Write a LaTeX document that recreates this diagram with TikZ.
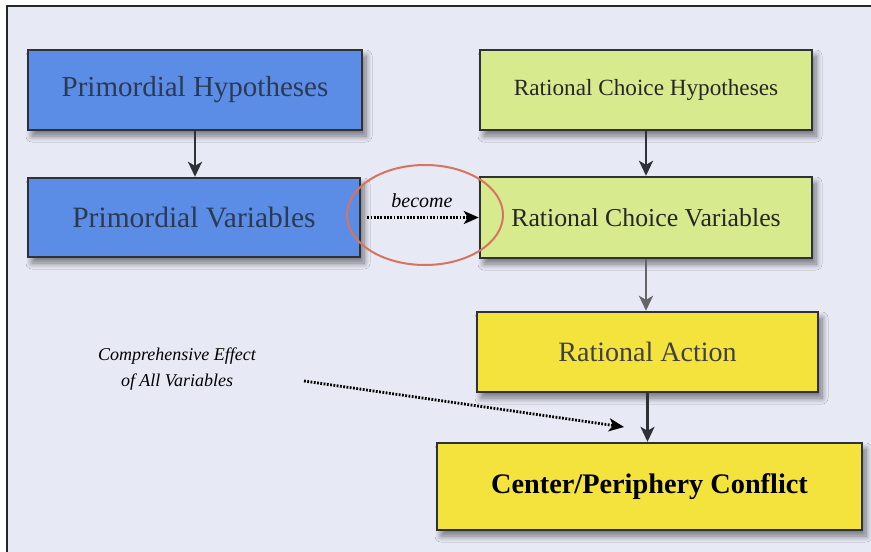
\documentclass[tikz,border=0pt]{standalone}
\usepackage{fontspec}
\setmainfont{Liberation Serif}
\usetikzlibrary{arrows.meta,shapes.geometric,shadows.blur}
\definecolor{bgc}{HTML}{E7E9F5}
\definecolor{bluef}{HTML}{5C8DE6}
\definecolor{bluet}{HTML}{2B3A52}
\definecolor{greenf}{HTML}{D7EB8E}
\definecolor{yellowf}{HTML}{F4E33C}
\definecolor{edgec}{HTML}{2E3236}
\definecolor{ringc}{HTML}{D7735F}
\tikzset{
  box/.style={draw=edgec, line width=2.4pt, rectangle, inner sep=0pt,
    blur shadow={shadow xshift=4pt, shadow yshift=-6pt, shadow blur steps=10, shadow blur radius=6pt, shadow opacity=50}},
  flow/.style={draw=edgec, line width=2.6pt, -{Stealth[length=15pt,width=14pt,inset=4pt]}},
  dotflow/.style={draw=black, line width=2.8pt, dash pattern=on 1.8pt off 1.5pt, -{Stealth[length=15pt,width=13pt,inset=4pt]}},
}
\begin{document}
\begin{tikzpicture}[x=1pt,y=-1pt]
\useasboundingbox (0,0) rectangle (871,552);
\fill[white] (0,0) rectangle (871,552);
\draw[line width=2pt, draw=black!85, fill=bgc] (7,6) rectangle (885,560);

\node[box, fill=bluef, minimum width=334pt, minimum height=80pt, text=bluet, font=\fontsize{29}{33}\selectfont] (ph) at (195,90) {Primordial Hypotheses};
\node[box, fill=bluef, minimum width=332pt, minimum height=79pt, text=bluet, font=\fontsize{29.5}{33}\selectfont] (pv) at (194,217.5) {Primordial Variables};
\node[box, fill=greenf, minimum width=332pt, minimum height=80pt, text=black!85, font=\fontsize{23.2}{27}\selectfont] (rch) at (646,90) {Rational Choice Hypotheses};
\node[box, fill=greenf, minimum width=332pt, minimum height=81pt, text=black!85, font=\fontsize{25.8}{30}\selectfont] (rcv) at (646,217.5) {Rational Choice Variables};
\node[box, fill=yellowf, minimum width=341pt, minimum height=80pt, text=black!75, font=\fontsize{28}{32}\selectfont] (ra) at (647.5,352) {Rational Action};
\node[box, fill=yellowf, minimum width=425pt, minimum height=87pt, text=black, font=\fontsize{28.3}{32}\selectfont\bfseries] (cpc) at (649.5,486.5) {Center/Periphery Conflict};

\draw[flow] (ph.south) -- (ph.south |- pv.north);
\draw[flow] (rch.south) -- (rch.south |- rcv.north);
\draw[flow, draw=black!60] (rcv.south) -- (rcv.south |- ra.north);
\draw[flow] (ra.south) -- (ra.south |- cpc.north);

\node[ellipse, draw=ringc, line width=2pt, minimum width=156pt, minimum height=100pt, inner sep=0pt] (ring) at (425,215) {};
\node[font=\fontsize{20}{24}\selectfont\itshape] (bec) at (422,201) {become};
\draw[dotflow, shorten <=6pt] (pv.east) -- (rcv.west);

\node[align=center, font=\fontsize{18}{26}\selectfont\itshape] (cmp) at (177,369) {Comprehensive Effect\\of All Variables};
\coordinate (cstart) at (304,381);
\coordinate (cend) at (624,427);
\draw[dotflow] (cstart) -- (cend);
\end{tikzpicture}
\end{document}
